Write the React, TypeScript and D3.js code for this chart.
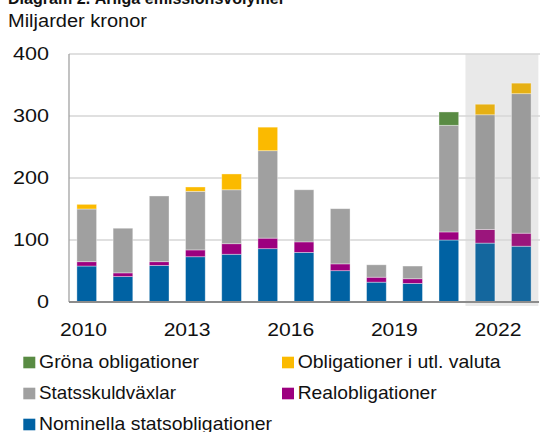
import React from "react";
import * as d3 from "d3";

const years = [2010, 2011, 2012, 2013, 2014, 2015, 2016, 2017, 2018, 2019, 2020, 2021, 2022];
const forecastYears = [2021, 2022];
const nominella = [58, 41, 59, 73, 77, 86, 80, 50.5, 32, 30, 100, 95, 90];
const realobl = [7, 6, 6, 11, 17, 17, 17, 11, 8, 7.5, 13, 22, 21];
const statsskuldvaxlar = [85, 72, 106, 94.5, 87, 141, 84, 89, 20, 20.5, 172, 185, 225];
const utlValuta = [7.5, 0, 0, 7, 25.5, 38, 0, 0, 0, 0, 0, 17, 17];
const grona = [0, 0, 0, 0, 0, 0, 0, 0, 0, 0, 21.5, 0, 0];
const yTicks = [0, 100, 200, 300, 400];
const xTickYears = [2010, 2013, 2016, 2019, 2022];

const seriesKeys = ["nom", "real", "ssv", "utl", "green"];
const colors: Record<string, string> = {
  nom: "#0062a3",
  real: "#9c007f",
  ssv: "#a0a0a0",
  utl: "#fbba00",
  green: "#598b43",
};
const forecastColors: Record<string, string> = {
  nom: "#14679e",
  real: "#9b157c",
  ssv: "#9b9b9b",
  utl: "#e6b014",
  green: "#598b43",
};

const legendItems = [
  { key: "green", label: "Gröna obligationer", col: 0, row: 0, w: 160 },
  { key: "utl", label: "Obligationer i utl. valuta", col: 1, row: 0, w: 203 },
  { key: "ssv", label: "Statsskuldväxlar", col: 0, row: 1, w: 137 },
  { key: "real", label: "Realobligationer", col: 1, row: 1, w: 139 },
  { key: "nom", label: "Nominella statsobligationer", col: 0, row: 2, w: 233 },
];

const font = "'Liberation Sans', Arial, Helvetica, sans-serif";

export default function App() {
  const W = 547, H = 432;
  const left = 69, right = 539, top = 54, bottom = 302;

  const table = years.map((y, i) => ({
    year: y,
    nom: nominella[i],
    real: realobl[i],
    ssv: statsskuldvaxlar[i],
    utl: utlValuta[i],
    green: grona[i],
  }));
  const stacked = d3.stack<any>().keys(seriesKeys)(table);

  const x = d3.scaleBand<number>().domain(years).range([left, right]).paddingInner(0.456).paddingOuter(0.218);
  const y = d3.scaleLinear().domain([0, 400]).range([bottom, top]);
  const xLabel = d3.scaleLinear().domain([2010, 2022]).range([83.5, 498]);

  const step = x.step();
  const bw = x.bandwidth();
  const gap = (step - bw) / 2;
  const shadeX0 = (x(forecastYears[0]) as number) - gap - 1.5;
  const shadeX1 = (x(forecastYears[forecastYears.length - 1]) as number) + bw + gap - 1;

  const digitW = 12;

  return (
    <svg width={W} height={H} style={{ position: "absolute", left: 0, top: 0, background: "#fff" }} fontFamily={font}>
      <text x={8} y={3.5} fontSize={17} fontWeight="bold" fill="#111" textLength={277} lengthAdjust="spacingAndGlyphs">
        Diagram 2. Årliga emissionsvolymer
      </text>
      <text x={8} y={26.5} fontSize={17.5} fill="#111" textLength={139} lengthAdjust="spacingAndGlyphs">
        Miljarder kronor
      </text>

      <rect x={shadeX0} y={top} width={shadeX1 - shadeX0} height={bottom - top + 4} fill="#e9e9e9" />

      {yTicks.filter((t) => t > 0).map((t) => (
        <line key={t} x1={left} x2={right + 1} y1={y(t)} y2={y(t)} stroke="#d6d6d6" strokeWidth={1.6} />
      ))}

      {stacked.map((layer) => (
        <g key={layer.key}>
          {layer.map((d, i) => {
            const h = y(d[0]) - y(d[1]);
            if (h <= 0) return null;
            const yr = years[i];
            const isF = forecastYears.includes(yr);
            return (
              <rect
                key={yr}
                x={x(yr)}
                y={y(d[1])}
                width={bw}
                height={h}
                fill={(isF ? forecastColors : colors)[layer.key]}
                stroke="#ffffff"
                strokeOpacity={0.45}
                strokeWidth={0.8}
              />
            );
          })}
        </g>
      ))}

      <line x1={left} x2={left} y1={top} y2={bottom} stroke="#9a9a9a" strokeWidth={1.2} />
      <line x1={left} x2={right} y1={bottom} y2={bottom} stroke="#8c8c8c" strokeWidth={1.8} />

      {yTicks.map((t) => {
        const s = String(t);
        return (
          <text key={t} x={49} y={y(t)} dy="0.36em" textAnchor="end" fontSize={17.5} fill="#111"
            textLength={s.length * digitW} lengthAdjust="spacingAndGlyphs">
            {s}
          </text>
        );
      })}

      {xTickYears.map((yr) => (
        <text key={yr} x={xLabel(yr)} y={336} textAnchor="middle" fontSize={18.5} fill="#111"
          textLength={47} lengthAdjust="spacingAndGlyphs">
          {yr}
        </text>
      ))}

      {legendItems.map((it) => {
        const lx = it.col === 0 ? 23.3 : 282;
        const ly = 368.3 + it.row * 31;
        return (
          <g key={it.key}>
            <rect x={lx} y={ly - 11.6} width={12} height={11.6} fill={colors[it.key]} />
            <text x={lx + 15.7} y={ly} fontSize={18.5} fill="#111" textLength={it.w} lengthAdjust="spacingAndGlyphs">
              {it.label}
            </text>
          </g>
        );
      })}
    </svg>
  );
}
